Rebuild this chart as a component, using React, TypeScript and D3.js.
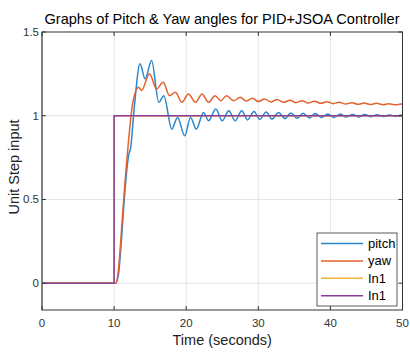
import React from 'react';
import * as d3 from 'd3';

const W = 410;
const H = 352;

// [time, value]
const pitch: [number, number][] = [
  [0, 0], [10.2, 0], [10.6, 0.05], [11, 0.25], [11.5, 0.55], [12, 0.76], [12.3, 0.81], [12.8, 1.05],
  [13.6, 1.31], [14.3, 1.22], [15.2, 1.33], [16.2, 1.08], [16.9, 1.12], [18.0, 0.92], [18.8, 0.99],
  [19.8, 0.88], [20.6, 0.99], [21.4, 0.92], [22.4, 1.02], [23.1, 0.97], [24.1, 1.04], [25.0, 0.97],
  [25.9, 1.03], [26.8, 0.97], [27.7, 1.03], [28.5, 0.975], [29.4, 1.025], [30.2, 0.978], [31.1, 1.022],
  [31.9, 0.98], [32.8, 1.02], [33.7, 0.983], [34.5, 1.017], [35.4, 0.985], [36.2, 1.015], [37.1, 0.987],
  [37.9, 1.013], [38.8, 0.989], [39.6, 1.011], [40.5, 0.99], [41.4, 1.01], [42.2, 0.992], [43.1, 1.008],
  [43.9, 0.993], [44.8, 1.007], [45.6, 0.994], [46.5, 1.006], [47.3, 0.995], [48.2, 1.005], [49.0, 0.996],
  [49.9, 1.004], [50, 1.003],
];

const yaw: [number, number][] = [
  [0, 0], [10.2, 0], [10.6, 0.08], [11, 0.3], [11.5, 0.6], [12, 0.85], [12.6, 1.08], [13.4, 1.17],
  [13.8, 1.15], [14.9, 1.25], [15.9, 1.16], [16.8, 1.2], [17.7, 1.12], [18.5, 1.14], [19.4, 1.08],
  [20.3, 1.13], [21.3, 1.08], [22.2, 1.13], [23.1, 1.08], [24.0, 1.12], [24.8, 1.09], [25.6, 1.12],
  [26.6, 1.09], [27.5, 1.11], [28.3, 1.088], [29.2, 1.105], [30.0, 1.085], [30.9, 1.1], [31.8, 1.082],
  [32.6, 1.097], [33.5, 1.08], [34.4, 1.093], [35.2, 1.078], [36.1, 1.09], [36.9, 1.076], [37.8, 1.087],
  [38.7, 1.074], [39.5, 1.084], [40.4, 1.072], [41.2, 1.081], [42.1, 1.07], [43.0, 1.078], [43.8, 1.068],
  [44.7, 1.076], [45.5, 1.067], [46.4, 1.074], [47.3, 1.066], [48.1, 1.072], [49.0, 1.065], [49.8, 1.07],
  [50, 1.068],
];

const stepIn: [number, number][] = [[0, 0], [10, 0], [10, 1], [50, 1]];

const xTicks = [0, 10, 20, 30, 40, 50];
const yTicks = [0, 0.5, 1, 1.5];

const series = [
  { name: 'pitch', data: pitch, color: '#2a86cc', step: false },
  { name: 'yaw', data: yaw, color: '#e3632f', step: false },
  { name: 'In1', data: stepIn, color: '#f0b52e', step: true },
  { name: 'In1', data: stepIn, color: '#8a3c9c', step: true },
];

const font = 'Arial, "Liberation Sans", Helvetica, sans-serif';

export default function App() {
  const left = 42, right = 402.5, top = 32, bottom = 310;
  const x = d3.scaleLinear().domain([0, 50]).range([left, right]);
  const y = d3.scaleLinear().domain([-0.16, 1.5]).range([bottom, top]);

  const smooth = d3.line<[number, number]>().x(d => x(d[0])).y(d => y(d[1])).curve(d3.curveMonotoneX);
  const straight = d3.line<[number, number]>().x(d => x(d[0])).y(d => y(d[1]));

  const axisColor = '#333';
  const tickLen = 4;

  const lx = 317, ly = 233, lw = 80, lh = 73;

  return (
    <div>
      <style>{'body{margin:0}'}</style>
      <svg width={W} height={H} style={{ display: 'block', background: '#fff', fontFamily: font }}>
        <rect x={left} y={top} width={right - left} height={bottom - top} fill="#fff" />
        {/* grid */}
        {xTicks.slice(1, -1).map(t => (
          <line key={'gx' + t} x1={x(t)} x2={x(t)} y1={top} y2={bottom} stroke="#e5e5e5" strokeWidth={1} />
        ))}
        {yTicks.slice(0, -1).map(t => (
          <line key={'gy' + t} x1={left} x2={right} y1={y(t)} y2={y(t)} stroke="#e5e5e5" strokeWidth={1} />
        ))}

        {/* series */}
        <g fill="none" strokeWidth={1.5} strokeLinejoin="round">
          {series.map((s, i) => (
            <path key={i} d={(s.step ? straight : smooth)(s.data) || ''} stroke={s.color} />
          ))}
        </g>

        {/* box */}
        <rect x={left} y={top} width={right - left} height={bottom - top} fill="none" stroke={axisColor} strokeWidth={1} />
        <line x1={left} x2={left} y1={top} y2={bottom} stroke="#7a7a7a" strokeWidth={1.5} />
        {xTicks.map(t => (
          <g key={'xt' + t}>
            <line x1={x(t)} x2={x(t)} y1={bottom} y2={bottom - tickLen} stroke={axisColor} />
            <line x1={x(t)} x2={x(t)} y1={top} y2={top + tickLen} stroke={axisColor} />
            <text x={x(t)} y={bottom + 17} textAnchor="middle" fontSize={11.5} fill={axisColor}>{t}</text>
          </g>
        ))}
        {yTicks.map(t => (
          <g key={'yt' + t}>
            <line x1={left} x2={left + tickLen} y1={y(t)} y2={y(t)} stroke={axisColor} />
            <line x1={right} x2={right - tickLen} y1={y(t)} y2={y(t)} stroke={axisColor} />
            <text x={left - 3} y={y(t) + 4} textAnchor="end" fontSize={11.5} fill={axisColor}>{t}</text>
          </g>
        ))}

        {/* labels */}
        <text x={222} y={24} textAnchor="middle" fontSize={14.6} fill="#000">
          Graphs of Pitch &amp; Yaw angles for PID+JSOA Controller
        </text>
        <text x={(left + right) / 2} y={345} textAnchor="middle" fontSize={14.5} fill="#222">
          Time (seconds)
        </text>
        <text transform={`translate(19,${(top + bottom) / 2 - 4}) rotate(-90)`} textAnchor="middle" fontSize={14.5} fill="#222">
          Unit Step input
        </text>

        {/* legend */}
        <rect x={lx} y={ly} width={lw} height={lh} fill="#fff" stroke={axisColor} strokeWidth={0.8} />
        {series.map((s, i) => {
          const yy = ly + 10.5 + i * 17.4;
          return (
            <g key={'lg' + i}>
              <line x1={lx + 4} x2={lx + 46} y1={yy} y2={yy} stroke={s.color} strokeWidth={1.5} />
              <text x={lx + 51} y={yy + 4.5} fontSize={13} fill="#000">{s.name}</text>
            </g>
          );
        })}
      </svg>
    </div>
  );
}
